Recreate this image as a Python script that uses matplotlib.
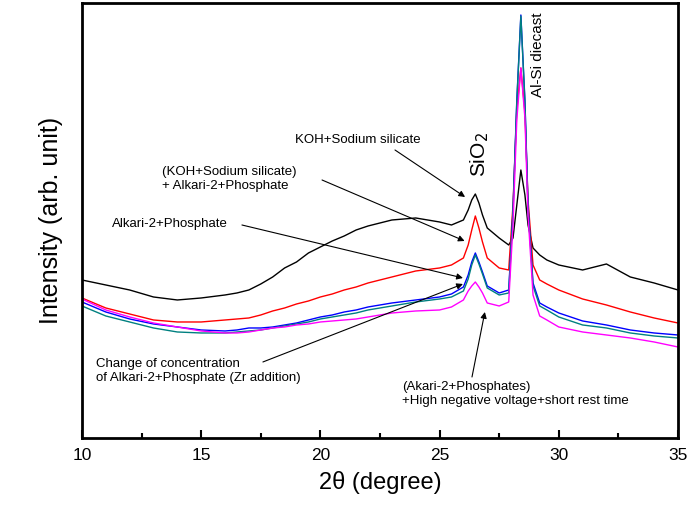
import matplotlib
matplotlib.use("Agg")
import matplotlib.pyplot as plt
from matplotlib.ticker import MultipleLocator

plt.rcParams['font.family'] = ['Liberation Sans', 'DejaVu Sans']

two_theta = [10, 11, 12, 13, 14, 15, 16, 16.5, 17, 17.5, 18, 18.5, 19, 19.5, 20, 20.5,
             21, 21.5, 22, 23, 24, 25, 25.5,
             26.0, 26.2, 26.35, 26.5, 26.65, 26.8, 27.0, 27.5, 27.9,
             28.08, 28.24, 28.41, 28.58, 28.71, 28.92, 29.2, 29.5,
             30, 31, 32, 33, 34, 35]

# intensities (arb. unit)
koh_silicate = [158, 153, 148, 141, 138, 140, 143, 145, 148, 154, 161, 170, 176, 185, 191, 197,
                202, 208, 212, 218, 220, 216, 213,
                218, 228, 238, 244, 235, 223, 210, 200, 193,
                200, 233, 268, 243, 213, 190, 183, 178,
                173, 168, 174, 161, 155, 148]
koh_alkari = [140, 130, 124, 118, 116, 116, 118, 119, 120, 123, 127, 130, 134, 137, 141, 144,
              148, 151, 155, 161, 167, 170, 173,
              180, 193, 208, 222, 210, 196, 180, 170, 168,
              233, 328, 370, 326, 238, 173, 158, 154,
              148, 139, 133, 126, 120, 115]
alkari = [136, 126, 119, 114, 111, 108, 107, 108, 110, 110, 111, 113, 115, 118, 121, 123,
          126, 128, 131, 135, 138, 141, 144,
          151, 163, 176, 185, 176, 166, 152, 145, 148,
          228, 338, 423, 338, 233, 155, 135, 131,
          125, 117, 113, 108, 105, 103]
zr_addition = [132, 122, 116, 110, 106, 105, 105, 106, 107, 108, 110, 112, 114, 116, 119, 121,
               123, 125, 128, 132, 136, 139, 141,
               147, 159, 173, 183, 174, 164, 150, 143, 145,
               225, 336, 422, 336, 230, 152, 132, 128,
               121, 113, 110, 105, 102, 100]
high_voltage = [139, 128, 121, 115, 111, 107, 105, 105, 106, 108, 110, 111, 113, 114, 116, 117,
                118, 119, 121, 125, 127, 128, 131,
                138, 147, 152, 156, 151, 145, 135, 132, 136,
                213, 318, 370, 320, 223, 143, 122, 118,
                111, 106, 103, 100, 96, 91]

fig = plt.figure(figsize=(6.97, 5.16), dpi=100)
ax = fig.add_axes([0.1176, 0.1512, 0.8551, 0.843])

ax.plot(two_theta, koh_silicate, color='black', lw=1.0)
ax.plot(two_theta, koh_alkari, color='#ff0000', lw=1.0)
ax.plot(two_theta, alkari, color='#0000ff', lw=1.0)
ax.plot(two_theta, zr_addition, color='#008080', lw=1.0)
ax.plot(two_theta, high_voltage, color='#ff00ff', lw=1.0)

ax.set_xlim(10, 35)
ax.set_ylim(0, 435)
ax.xaxis.set_major_locator(MultipleLocator(5))
ax.xaxis.set_minor_locator(MultipleLocator(2.5))
ax.tick_params(axis='x', which='major', direction='in', length=6, width=1.5,
               labelsize=12.5, pad=7, top=False)
ax.tick_params(axis='x', which='minor', direction='in', length=3.5, width=1.5, top=False)
ax.set_yticks([])
for sp in ax.spines.values():
    sp.set_linewidth(2)

ax.set_xlabel("2\u03b8 (degree)", fontsize=17, labelpad=6)
ax.set_ylabel("Intensity (arb. unit)", fontsize=18, labelpad=14)

# peak labels
ax.text(26.69, 283, r"SiO$_2$", rotation=90, fontsize=15, ha='center', va='center')
ax.text(29.13, 383, "Al-Si diecast", rotation=90, fontsize=11, ha='center', va='center')

arrow = dict(arrowstyle='-|>', color='black', lw=0.8, mutation_scale=9, shrinkA=0, shrinkB=0)
fs = 9.5

ax.text(18.93, 298, "KOH+Sodium silicate", fontsize=fs, va='center')
ax.annotate("", xy=(26.07, 241), xytext=(23.13, 288), arrowprops=arrow)

ax.text(13.36, 259, "(KOH+Sodium silicate)\n+ Alkari-2+Phosphate", fontsize=fs,
        va='center', linespacing=1.3)
ax.annotate("", xy=(26.05, 197), xytext=(20.07, 258), arrowprops=arrow)

ax.text(11.26, 214, "Alkari-2+Phosphate", fontsize=fs, va='center')
ax.annotate("", xy=(25.98, 160), xytext=(16.71, 213), arrowprops=arrow)

ax.text(10.59, 67, "Change of concentration\nof Alkari-2+Phosphate (Zr addition)",
        fontsize=fs, va='center', linespacing=1.3)
ax.annotate("", xy=(25.98, 154), xytext=(17.59, 76), arrowprops=arrow)

ax.text(23.42, 44, "(Akari-2+Phosphates)\n+High negative voltage+short rest time",
        fontsize=fs, va='center', linespacing=1.3)
ax.annotate("", xy=(26.9, 126), xytext=(26.36, 61), arrowprops=arrow)

fig.savefig("out.png", dpi=100)
